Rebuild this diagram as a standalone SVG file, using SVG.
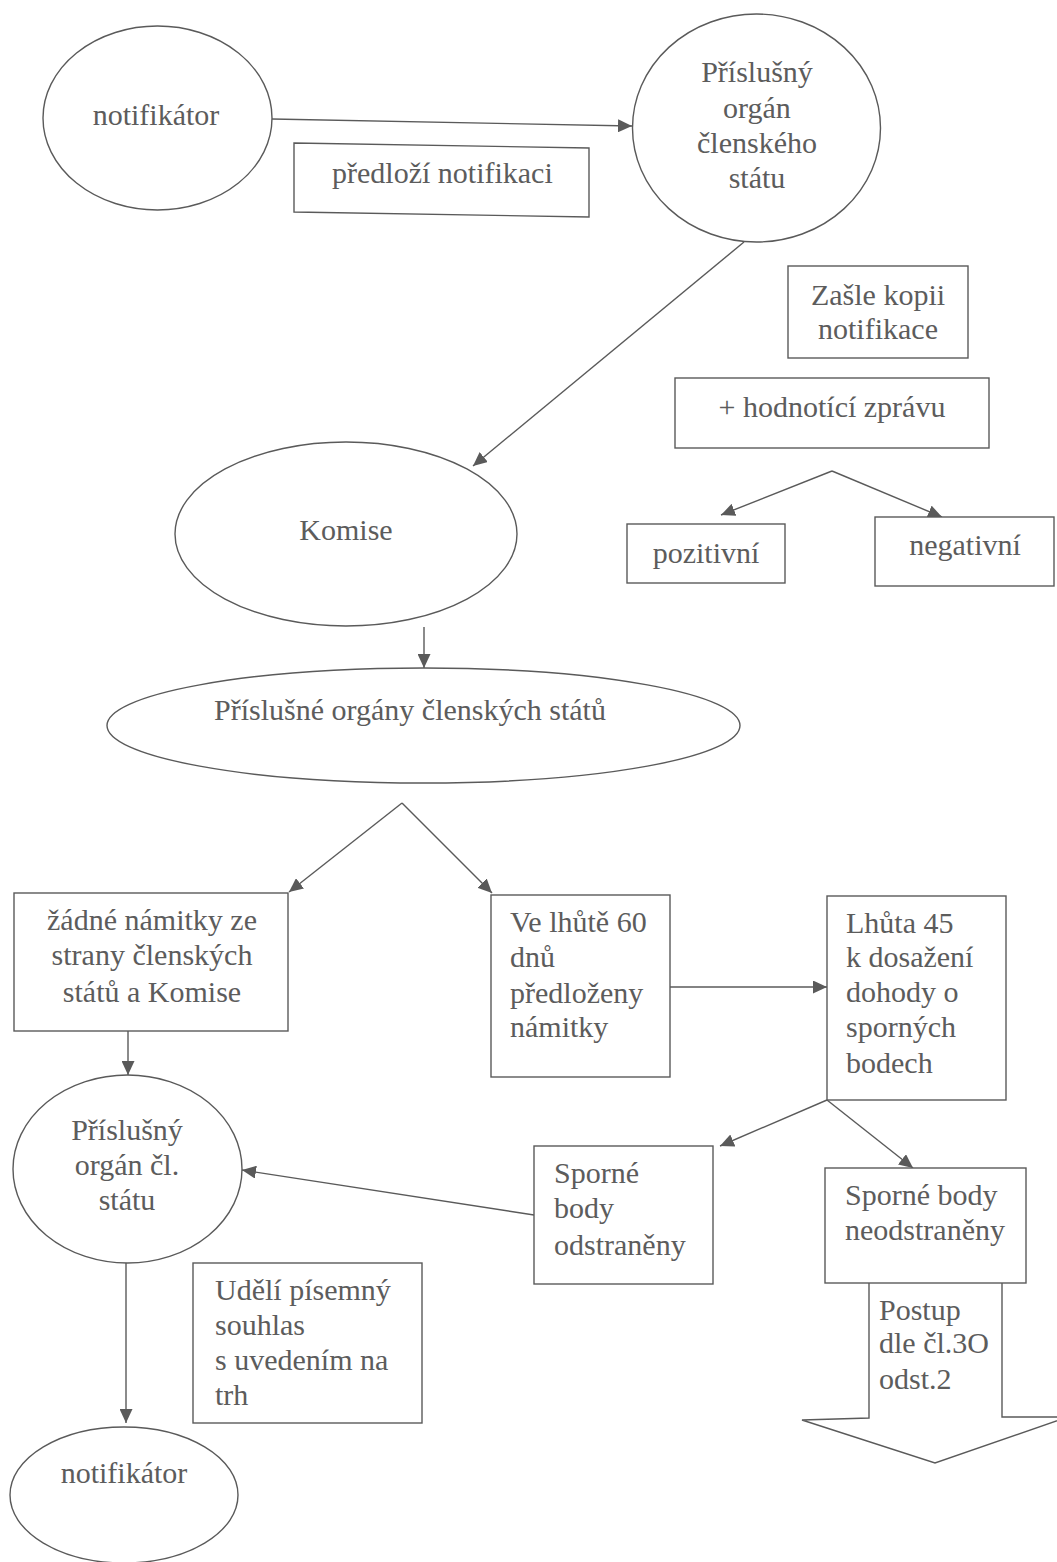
<svg xmlns="http://www.w3.org/2000/svg" width="1057" height="1562" viewBox="0 0 1057 1562">
<defs>
<style>
.s{fill:none;stroke:#5a5a5a;stroke-width:1.4}
.n{fill:#fff;stroke:#5a5a5a;stroke-width:1.4}
text{font-family:"Liberation Serif","Times New Roman",serif;font-size:30px;fill:#5c5c5c}
.c{text-anchor:middle}
.a{fill:none;stroke:#5a5a5a;stroke-width:1.4;marker-end:url(#ah)}
</style>
<marker id="ah" markerUnits="userSpaceOnUse" markerWidth="15" markerHeight="13" refX="14" refY="6.5" orient="auto">
<path d="M0,0 L14,6.5 L0,13 z" fill="#5a5a5a"/>
</marker>
</defs>
<rect width="1057" height="1562" fill="#fff"/>

<g id="connectors">
<line class="a" x1="272" y1="119" x2="632" y2="126"/>
<line class="a" x1="744" y1="242" x2="473" y2="466"/>
<line class="a" x1="832" y1="471" x2="721" y2="515"/>
<line class="a" x1="832" y1="471" x2="942" y2="517"/>
<line class="a" x1="424" y1="627" x2="424" y2="668"/>
<line class="a" x1="402" y1="803" x2="289" y2="892"/>
<line class="a" x1="402" y1="803" x2="492" y2="893"/>
<line class="a" x1="128" y1="1031" x2="128" y2="1075"/>
<line class="a" x1="670" y1="987" x2="827" y2="987"/>
<line class="a" x1="827" y1="1100" x2="720" y2="1146"/>
<line class="a" x1="827" y1="1100" x2="913" y2="1168"/>
<line class="a" x1="534" y1="1215" x2="242" y2="1170"/>
<line class="a" x1="126" y1="1263" x2="126" y2="1423"/>
</g>

<g id="notifikator-top">
<ellipse class="n" cx="157.5" cy="118" rx="114.5" ry="92"/>
<text class="c" x="156" y="125">notifikátor</text>
</g>

<g id="predlozi">
<polygon class="n" points="294,143 589,148 589,217 294,212"/>
<text x="332" y="183">předloží notifikaci</text>
</g>

<g id="organ-clenskeho-statu">
<ellipse class="n" cx="756.5" cy="128" rx="124" ry="114"/>
<text class="c" x="757" y="82">Příslušný</text>
<text class="c" x="757" y="118">orgán</text>
<text class="c" x="757" y="153">členského</text>
<text class="c" x="757" y="188">státu</text>
</g>

<g id="zasle-kopii">
<rect class="n" x="788" y="266" width="180" height="92"/>
<text class="c" x="878" y="305">Zašle kopii</text>
<text class="c" x="878" y="339">notifikace</text>
</g>

<g id="hodnotici-zpravu">
<rect class="n" x="675" y="378" width="314" height="70"/>
<text class="c" x="832" y="417">+ hodnotící zprávu</text>
</g>

<g id="pozitivni">
<rect class="n" x="627" y="524" width="158" height="59"/>
<text class="c" x="706" y="563">pozitivní</text>
</g>

<g id="negativni">
<rect class="n" x="875" y="517" width="179" height="69"/>
<text class="c" x="965" y="555">negativní</text>
</g>

<g id="komise">
<ellipse class="n" cx="346" cy="534" rx="171" ry="92"/>
<text class="c" x="346" y="540">Komise</text>
</g>

<g id="organy-clenskych-statu">
<ellipse class="n" cx="423.5" cy="725.5" rx="316.5" ry="57.5"/>
<text class="c" x="410" y="720">Příslušné orgány členských států</text>
</g>

<g id="zadne-namitky">
<rect class="n" x="14" y="893" width="274" height="138"/>
<text class="c" x="152" y="930">žádné námitky ze</text>
<text class="c" x="152" y="965">strany členských</text>
<text class="c" x="152" y="1002">států a Komise</text>
</g>

<g id="ve-lhute-60">
<rect class="n" x="491" y="895" width="179" height="182"/>
<text x="510" y="932">Ve lhůtě 60</text>
<text x="510" y="967">dnů</text>
<text x="510" y="1003">předloženy</text>
<text x="510" y="1037">námitky</text>
</g>

<g id="lhuta-45">
<rect class="n" x="827" y="896" width="179" height="204"/>
<text x="846" y="933">Lhůta 45</text>
<text x="846" y="967">k dosažení</text>
<text x="846" y="1002">dohody o</text>
<text x="846" y="1037">sporných</text>
<text x="846" y="1073">bodech</text>
</g>

<g id="sporne-odstraneny">
<rect class="n" x="534" y="1146" width="179" height="138"/>
<text x="554" y="1183">Sporné</text>
<text x="554" y="1218">body</text>
<text x="554" y="1255">odstraněny</text>
</g>

<g id="sporne-neodstraneny">
<rect class="n" x="825" y="1168" width="201" height="115"/>
<text x="845" y="1205">Sporné body</text>
<text x="845" y="1240">neodstraněny</text>
</g>

<g id="postup">
<path class="s" d="M869,1283 L869,1418 L802,1420 L935,1463 L1068,1417 L1002,1417 L1002,1283"/>
<text x="879" y="1320">Postup</text>
<text x="879" y="1353">dle čl.3O</text>
<text x="879" y="1389">odst.2</text>
</g>

<g id="organ-cl-statu">
<ellipse class="n" cx="127.5" cy="1169" rx="114.5" ry="94"/>
<text class="c" x="127" y="1140">Příslušný</text>
<text class="c" x="127" y="1175">orgán čl.</text>
<text class="c" x="127" y="1210">státu</text>
</g>

<g id="udeli-souhlas">
<rect class="n" x="193" y="1263" width="229" height="160"/>
<text x="215" y="1300">Udělí písemný</text>
<text x="215" y="1335">souhlas</text>
<text x="215" y="1370">s uvedením na</text>
<text x="215" y="1405">trh</text>
</g>

<g id="notifikator-bottom">
<ellipse class="n" cx="124" cy="1495" rx="114" ry="68"/>
<text class="c" x="124" y="1483">notifikátor</text>
</g>
</svg>
